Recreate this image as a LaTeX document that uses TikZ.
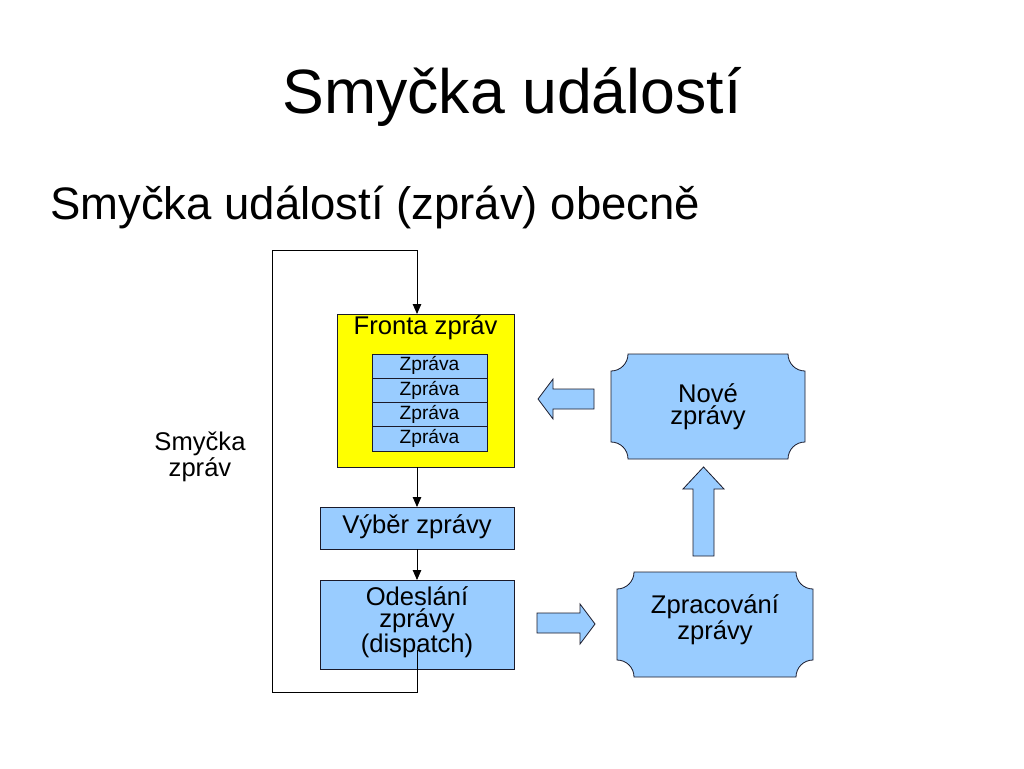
\documentclass[tikz,border=0pt]{standalone}
\usepackage{fontspec}
\setmainfont{Liberation Sans}
\usetikzlibrary{arrows.meta}
\definecolor{lblue}{HTML}{99CCFF}
\definecolor{qyellow}{HTML}{FFFF00}
\definecolor{edge}{HTML}{1A1A2A}
\begin{document}
\begin{tikzpicture}[x=1pt,y=-1pt,
  box/.style={draw=edge,line width=0.8pt,fill=lblue,inner sep=0pt,outer sep=0pt},
  ybox/.style={draw=edge,line width=0.8pt,fill=qyellow,inner sep=0pt,outer sep=0pt},
  txt/.style={anchor=base,inner sep=0pt,align=center,font=\fontsize{25.6}{22}\selectfont},
  smalltxt/.style={anchor=base,inner sep=0pt,font=\fontsize{19.2}{22}\selectfont},
  conn/.style={draw=black,line width=0.9pt,-{Triangle[length=10pt,width=8.5pt]}},
  loopline/.style={draw=black,line width=0.9pt},
  barrow/.style={draw=edge,line width=0.8pt,fill=lblue,line join=miter}]
\useasboundingbox (0,0) rectangle (1024,768);
\fill[white] (0,0) rectangle (1024,768);

% titles
\node[anchor=base,inner sep=0pt,font=\fontsize{62.6}{70}\selectfont] (title) at (512,113) {Smyčka událostí};
\node[anchor=base west,inner sep=0pt,font=\fontsize{45.5}{50}\selectfont] (subtitle) at (50,219) {Smyčka událostí (zpráv) obecně};

% queue box
\node[ybox,minimum width=177pt,minimum height=153pt] (fronta) at (425.5,390.5) {};
\node[txt] (frontatxt) at (425.5,334) {Fronta zpráv};
\node[box,minimum width=115pt,minimum height=24.5pt] (z1) at (429.5,366.5) {};
\node[box,minimum width=115pt,minimum height=24.5pt] (z2) at (429.5,391) {};
\node[box,minimum width=115pt,minimum height=24.5pt] (z3) at (429.5,415) {};
\node[box,minimum width=115pt,minimum height=24.5pt] (z4) at (429.5,439) {};
\node[smalltxt] (z1t) at (429.5,370.5) {Zpráva};
\node[smalltxt] (z2t) at (429.5,395) {Zpráva};
\node[smalltxt] (z3t) at (429.5,419) {Zpráva};
\node[smalltxt] (z4t) at (429.5,443) {Zpráva};

% select and dispatch
\node[box,minimum width=194pt,minimum height=42pt] (vyber) at (417,528) {};
\node[txt] (vybertxt) at (417,533) {Výběr zprávy};
\node[box,minimum width=194pt,minimum height=89pt] (odes) at (417,624.5) {};
\node[txt] (odestxt) at (417,652) {Odeslání\\zprávy\\(dispatch)};

% loop label
\node[txt] (looptxt) at (200,476) {Smyčka\\zpráv};

% plaques
\newcommand{\plaque}[5]{% x1 y1 x2 y2 r
  \draw[box] (#1+#5,#2) -- (#3-#5,#2)
    arc[start angle=180,end angle=90,radius=#5]
    -- (#3,#4-#5)
    arc[start angle=270,end angle=180,radius=#5]
    -- (#1+#5,#4)
    arc[start angle=0,end angle=-90,radius=#5]
    -- (#1,#2+#5)
    arc[start angle=90,end angle=0,radius=#5] -- cycle;}
\plaque{611}{354}{805}{459}{17}
\node[inner sep=0pt,minimum width=194pt,minimum height=105pt] (nove) at (708,406.5) {};
\node[txt] (novetxt) at (708,424) {Nové\\zprávy};
\plaque{617}{572}{813}{677}{17}
\node[inner sep=0pt,minimum width=196pt,minimum height=105pt] (zprac) at (715,624.5) {};
\node[txt] (zpractxt) at (715,639) {Zpracování\\zprávy};

% connectors
\coordinate (loopstart) at (417,650);
\coordinate (loopbl) at (272,692);
\coordinate (looptl) at (417,250);
\draw[loopline] (loopstart) |- (loopbl) |- (looptl);
\draw[conn] (looptl) -- (looptl |- fronta.north);
\draw[conn] (fronta.south -| vyber.north) -- (vyber.north);
\draw[conn] (vyber.south) -- (odes.north);

% block arrows
\draw[barrow] (594,389) -- (553,389) -- (553,379) -- (538,399) -- (553,419) -- (553,409) -- (594,409) -- cycle;
\draw[barrow] (537,613) -- (580,613) -- (580,604) -- (595,624) -- (580,644) -- (580,633) -- (537,633) -- cycle;
\draw[barrow] (693,556) -- (693,489) -- (683,489) -- (703.5,467) -- (724,489) -- (714,489) -- (714,556) -- cycle;
\end{tikzpicture}
\end{document}
